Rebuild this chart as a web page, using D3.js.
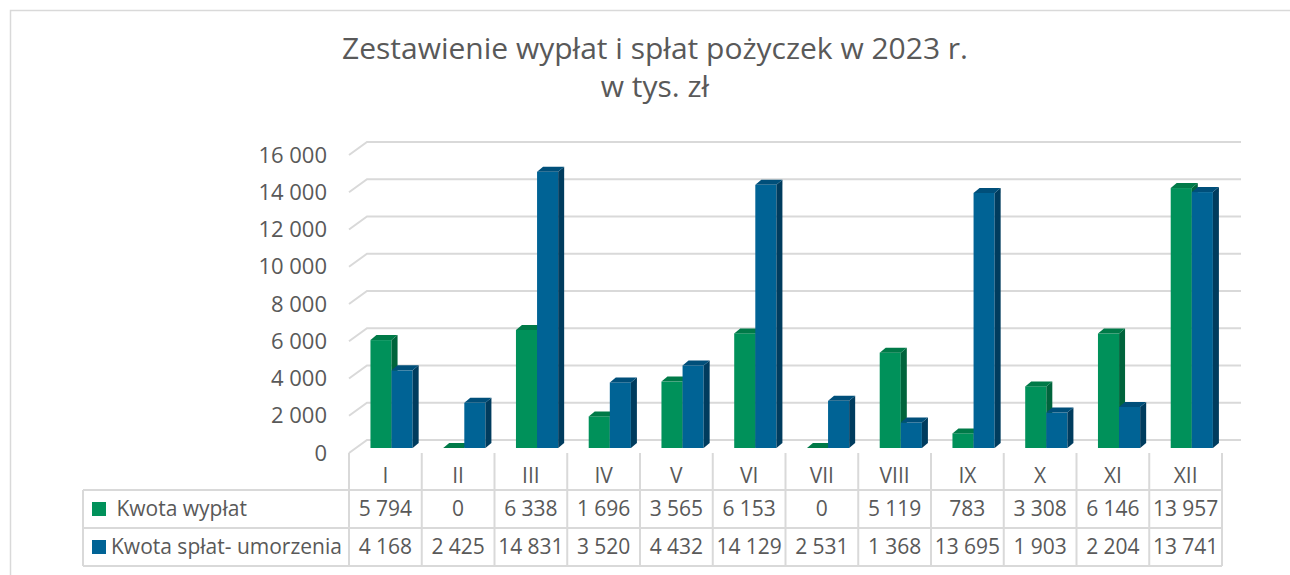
<!DOCTYPE html>
<html>
<head>
<meta charset="utf-8">
<script src="https://cdn.jsdelivr.net/npm/d3@7"></script>
<style>
  body { margin: 0; background: #fff; }
  svg { display: block; font-family: 'Open Sans', sans-serif; }
</style>
</head>
<body>
<div id="chart"></div>
<script>
/** Data **/
const months = ['I', 'II', 'III', 'IV', 'V', 'VI', 'VII', 'VIII', 'IX', 'X', 'XI', 'XII'];
const wyplaty = [5794, 0, 6338, 1696, 3565, 6153, 0, 5119, 783, 3308, 6146, 13957];
const splaty = [4168, 2425, 14831, 3520, 4432, 14129, 2531, 1368, 13695, 1903, 2204, 13741];
const yTicks = [0, 2000, 4000, 6000, 8000, 10000, 12000, 14000, 16000];
const seriesNames = [' Kwota wypłat', 'Kwota spłat- umorzenia'];
const titleLines = ['Zestawienie wypłat i spłat pożyczek w 2023 r.', 'w tys. zł'];

const series = [
  { name: seriesNames[0], values: wyplaty, front: '#00915a', side: '#00643c', top: '#007a48' },
  { name: seriesNames[1], values: splaty, front: '#006395', side: '#003c5e', top: '#004f7a' },
];

/** Layout **/
const width = 1290;
const height = 575;
const textColor = '#595959';
const lineColor = '#d9d9d9';
const depth = { dx: 18, dy: -13 }; // wall depth
const barDepth = { dx: 6, dy: -5 };
const fmt = (v) => d3.format(',')(v).replace(/,/g, ' ');

const svg = d3
  .select('#chart')
  .append('svg')
  .attr('width', width)
  .attr('height', height);

// chart area border (clipped at the right and bottom)
svg
  .append('path')
  .attr('d', `M10.5,${height} V10.5 H${width}`)
  .attr('fill', 'none')
  .attr('stroke', lineColor)
  .attr('stroke-width', 1.5);

/** Title **/
svg
  .append('g')
  .selectAll('text')
  .data(titleLines)
  .join('text')
  .attr('x', 655)
  .attr('y', (d, i) => 59 + i * 38)
  .attr('text-anchor', 'middle')
  .attr('fill', textColor)
  .attr('font-size', 30)
  .text((d) => d);

/** Scales **/
const x = d3.scaleBand().domain(months).range([349, 1222]);
const y = d3.scaleLinear().domain([0, 16000]).range([453, 155]);

/** Gridlines: side wall diagonal + back wall **/
const grid = svg.append('g');
grid
  .selectAll('path')
  .data(yTicks)
  .join('path')
  .attr('d', (d) => {
    const y0 = y(d);
    return `M${x.range()[0]},${y0} L${x.range()[0] + depth.dx},${y0 + depth.dy} H${x.range()[1] + depth.dx + 1}`;
  })
  .attr('fill', 'none')
  .attr('stroke', lineColor)
  .attr('stroke-width', 2);

/** Y axis labels **/
svg
  .append('g')
  .selectAll('text')
  .data(yTicks)
  .join('text')
  .attr('x', 327)
  .attr('y', (d) => y(d))
  .attr('dy', '0.35em')
  .attr('text-anchor', 'end')
  .attr('fill', textColor)
  .attr('font-size', 22)
  .text((d) => fmt(d));

/** 3D bars **/
const barW = x.bandwidth() * 0.29;
const barOffset = x.bandwidth() * 0.295;
const baseShift = -5;

const bars = [];
months.forEach((m, i) => {
  series.forEach((s, j) => {
    bars.push({
      x0: x(m) + barOffset + j * barW,
      y0: y(0) + baseShift,
      y1: y(s.values[i]) + baseShift,
      s,
    });
  });
});

const barG = svg.append('g');
bars.forEach((b) => {
  const g = barG.append('g');
  const { dx, dy } = barDepth;
  const x1 = b.x0 + barW;
  g.append('rect')
    .attr('x', b.x0)
    .attr('y', b.y1)
    .attr('width', barW)
    .attr('height', b.y0 - b.y1)
    .attr('fill', b.s.front);
  g.append('path')
    .attr('d', `M${x1},${b.y0} L${x1 + dx},${b.y0 + dy} L${x1 + dx},${b.y1 + dy} L${x1},${b.y1} Z`)
    .attr('fill', b.s.side);
  g.append('path')
    .attr('d', `M${b.x0},${b.y1} L${b.x0 + dx},${b.y1 + dy} L${x1 + dx},${b.y1 + dy} L${x1},${b.y1} Z`)
    .attr('fill', b.s.top);
});

/** Data table **/
const tableLeft = 83;
const rowY = [453, 490, 528, 566];
const table = svg.append('g').attr('stroke', lineColor).attr('stroke-width', 2);

// horizontal lines
table
  .selectAll('.hline')
  .data(rowY.slice(1))
  .join('line')
  .attr('x1', tableLeft)
  .attr('x2', x.range()[1])
  .attr('y1', (d) => d)
  .attr('y2', (d) => d);

// vertical lines
const colEdges = months.map((m) => x(m)).concat([x.range()[1]]);
table
  .selectAll('.vline')
  .data(colEdges)
  .join('line')
  .attr('x1', (d) => d)
  .attr('x2', (d) => d)
  .attr('y1', rowY[0])
  .attr('y2', rowY[3]);
table
  .append('line')
  .attr('x1', tableLeft)
  .attr('x2', tableLeft)
  .attr('y1', rowY[1])
  .attr('y2', rowY[3]);

// category labels
svg
  .append('g')
  .selectAll('text')
  .data(months)
  .join('text')
  .attr('x', (d) => x(d) + x.bandwidth() / 2)
  .attr('y', (rowY[0] + rowY[1]) / 2 + 4)
  .attr('dy', '0.35em')
  .attr('text-anchor', 'middle')
  .attr('fill', textColor)
  .attr('font-size', 21)
  .text((d) => d);

// value rows
series.forEach((s, j) => {
  const cy = (rowY[j + 1] + rowY[j + 2]) / 2;
  const row = svg.append('g');
  row
    .selectAll('text')
    .data(s.values)
    .join('text')
    .attr('x', (d, i) => x(months[i]) + x.bandwidth() / 2)
    .attr('y', cy)
    .attr('dy', '0.35em')
    .attr('text-anchor', 'middle')
    .attr('fill', textColor)
    .attr('font-size', 21)
    .text((d) => fmt(d));

  // legend key
  row
    .append('rect')
    .attr('x', 92)
    .attr('y', cy - 7)
    .attr('width', 14)
    .attr('height', 14)
    .attr('fill', s.front);
  row
    .append('text')
    .attr('x', 111)
    .attr('y', cy)
    .attr('dy', '0.35em')
    .attr('fill', textColor)
    .attr('font-size', 21)
    .attr('xml:space', 'preserve')
    .style('white-space', 'pre')
    .text(s.name);
});
</script>
</body>
</html>
